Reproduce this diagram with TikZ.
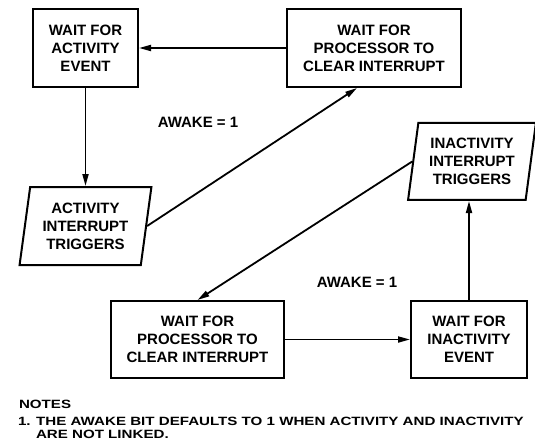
\documentclass[tikz,border=0pt]{standalone}
\usepackage{fontspec}
\setmainfont{Liberation Sans}
\usepackage{graphicx}
\usetikzlibrary{positioning, shapes.geometric, arrows.meta}

\begin{document}
\begin{tikzpicture}[
    x=1pt, y=-1pt,
    >={Triangle[length=12pt, width=6pt]},
    line width=2pt,
    font=\fontsize{15}{18}\selectfont\bfseries,
    arrow/.style={
        ->,
        line width=1.8pt
    },
    state/.style={
        rectangle,
        draw,
        align=center,
        minimum height=78pt,
        inner sep=0pt
    },
    trigger/.style={
        trapezium,
        trapezium left angle=80,
        trapezium right angle=100,
        trapezium stretches=true,
        draw,
        align=center,
        minimum width=132pt,
        minimum height=78pt,
        inner sep=0pt
    },
    awake/.style={
        inner sep=0pt
    },
    note/.style={
        anchor=west,
        inner sep=0pt,
        font=\fontsize{12}{13}\selectfont\bfseries
    }
]
    \useasboundingbox (0,0) rectangle (535,447);

    % Activity side
    \node[state, minimum width=105pt] (act_wait) at (85.5,48) {WAIT FOR\\ACTIVITY\\EVENT};
    \node[state, minimum width=174pt, right=147pt of act_wait] (act_clear) {WAIT FOR\\PROCESSOR TO\\CLEAR INTERRUPT};
    \node[trigger, below=98pt of act_wait] (act_trig) {ACTIVITY\\INTERRUPT\\TRIGGERS};

    \draw[arrow] (act_clear) -- (act_wait);
    \draw[arrow] (act_wait.south) -- (act_wait.south |- act_trig.north);
    \draw[arrow] (act_trig.east) -- ([xshift=-17pt]act_clear.south);
    \node[awake] (awake1) at (198,122) {AWAKE = 1};

    % Inactivity side
    \node[state, minimum width=173pt, minimum height=77pt] (inact_clear) at (197.5,339.5) {WAIT FOR\\PROCESSOR TO\\CLEAR INTERRUPT};
    \node[state, minimum width=116pt, minimum height=77pt, right=125pt of inact_clear] (inact_wait) {WAIT FOR\\INACTIVITY\\EVENT};
    \node[trigger, minimum width=128pt, minimum height=77pt, above=99pt of inact_wait, xshift=3pt] (inact_trig) {INACTIVITY\\INTERRUPT\\TRIGGERS};

    \draw[arrow] (inact_clear) -- (inact_wait);
    \draw[arrow] (inact_wait.north) -- (inact_wait.north |- inact_trig.south);
    \draw[arrow] (inact_trig.west) -- (inact_clear.north);
    \node[awake] (awake2) at (357,282) {AWAKE = 1};

    % Notes
    \node[note] (notes) at (18,404) {\scalebox{1.26}[1]{NOTES}};
    \node[note] (note_a) at (17,421.5) {\scalebox{1.26}[1]{1. THE AWAKE BIT DEFAULTS TO 1 WHEN ACTIVITY AND INACTIVITY}};
    \node[note] (note_b) at (35,434.5) {\scalebox{1.26}[1]{ARE NOT LINKED.}};
\end{tikzpicture}
\end{document}
